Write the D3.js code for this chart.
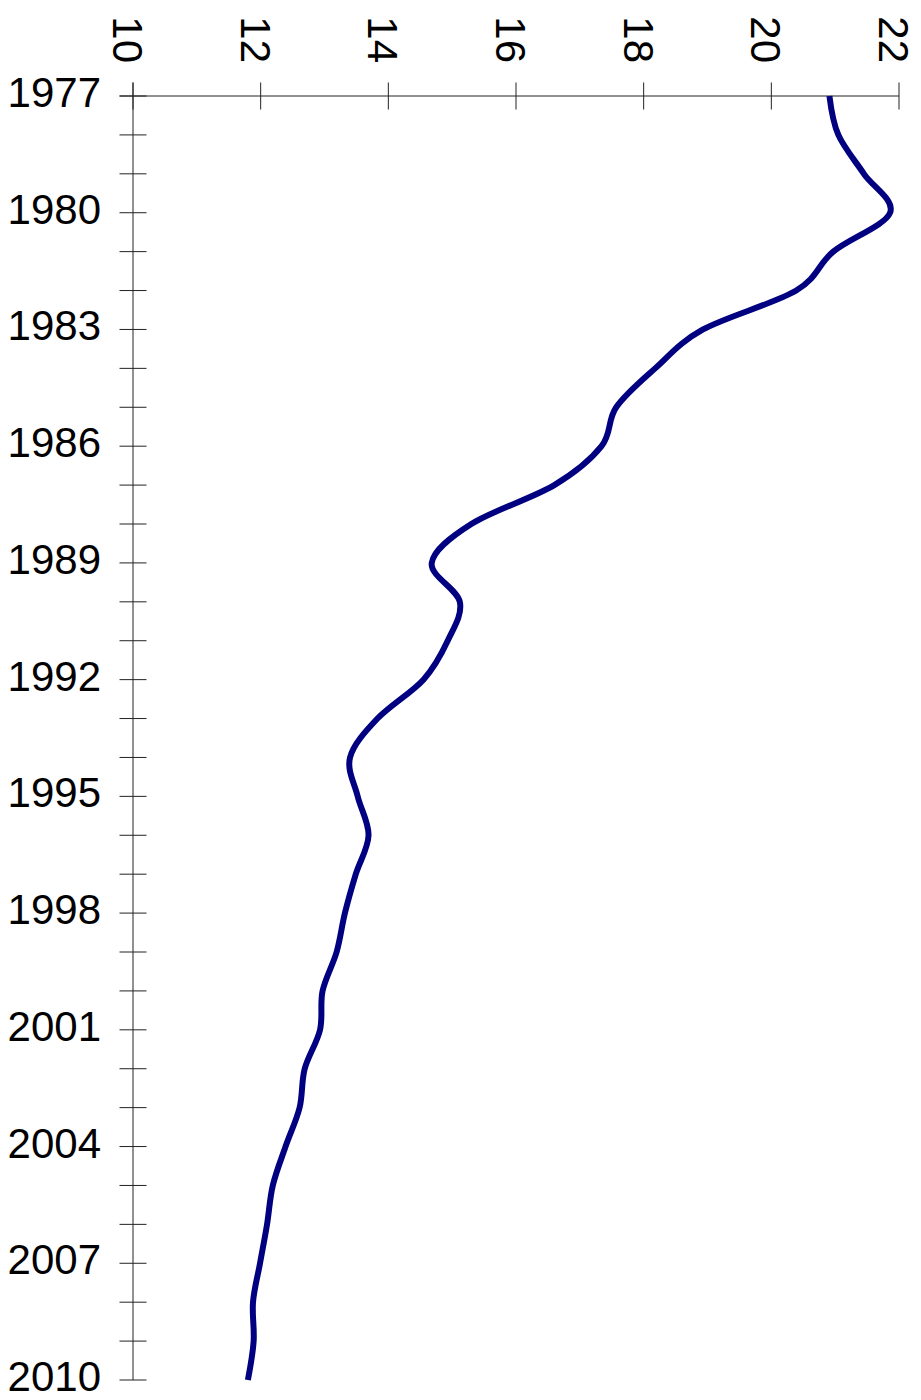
<!DOCTYPE html>
<html>
<head>
<meta charset="utf-8">
<script src="https://cdn.jsdelivr.net/npm/d3@7"></script>
<style>
  html, body { margin: 0; padding: 0; background: #fff; }
  svg { display: block; }
  text { font-family: "Liberation Sans", Arial, sans-serif; fill: #000; }
</style>
</head>
<body>
<svg id="chart" width="921" height="1400"></svg>
<script>
const years = [1977,1978,1979,1980,1981,1982,1983,1984,1985,1986,1987,1988,1989,1990,1991,1992,1993,1994,1995,1996,1997,1998,1999,2000,2001,2002,2003,2004,2005,2006,2007,2008,2009,2010];
const values = [20.91,21.05,21.45,21.86,20.97,20.39,18.93,18.18,17.57,17.34,16.6,15.3,14.68,15.12,14.93,14.55,13.83,13.4,13.52,13.69,13.49,13.32,13.19,12.97,12.93,12.69,12.61,12.39,12.19,12.1,11.99,11.88,11.89,11.8];
const valueTicks = [10,12,14,16,18,20,22];
const yearLabels = [1977,1980,1983,1986,1989,1992,1995,1998,2001,2004,2007,2010];

const svg = d3.select("#chart");
const x = d3.scaleLinear().domain([10, 22]).range([133, 899]);
const y = d3.scaleLinear().domain([1977, 2010]).range([96, 1380]);
const axisColor = "#222";
const half = 13.5;

const g = svg.append("g");

// horizontal (value) axis line at top
g.append("line")
  .attr("x1", x(10) - half).attr("x2", x(22))
  .attr("y1", y(1977)).attr("y2", y(1977))
  .attr("stroke", axisColor).attr("stroke-width", 1);

// vertical (year) axis line
g.append("line")
  .attr("x1", x(10)).attr("x2", x(10))
  .attr("y1", y(1977) - half).attr("y2", y(2010))
  .attr("stroke", axisColor).attr("stroke-width", 1);

// value ticks (crossing)
g.selectAll(".vtick").data(valueTicks).join("line")
  .attr("x1", d => x(d)).attr("x2", d => x(d))
  .attr("y1", y(1977) - half).attr("y2", y(1977) + half)
  .attr("stroke", axisColor).attr("stroke-width", 1);

// value labels rotated
g.selectAll(".vlabel").data(valueTicks).join("text")
  .attr("transform", d => `translate(${x(d)},63) rotate(90)`)
  .attr("y", 20)
  .attr("text-anchor", "end")
  .attr("font-size", 42)
  .text(d => d);

// year ticks (crossing)
g.selectAll(".ytick").data(years).join("line")
  .attr("x1", x(10) - half).attr("x2", x(10) + half)
  .attr("y1", d => y(d)).attr("y2", d => y(d))
  .attr("stroke", axisColor).attr("stroke-width", 1);

// year labels
g.selectAll(".ylabel").data(yearLabels).join("text")
  .attr("x", 101)
  .attr("y", d => y(d) + 11)
  .attr("text-anchor", "end")
  .attr("font-size", 42)
  .text(d => d);

// data line
const line = d3.line()
  .x((d, i) => x(values[i]))
  .y(d => y(d))
  .curve(d3.curveCatmullRom.alpha(0));

g.append("path")
  .datum(years)
  .attr("d", line)
  .attr("fill", "none")
  .attr("stroke", "#000080")
  .attr("stroke-width", 6)
  .attr("stroke-linejoin", "round");
</script>
</body>
</html>
